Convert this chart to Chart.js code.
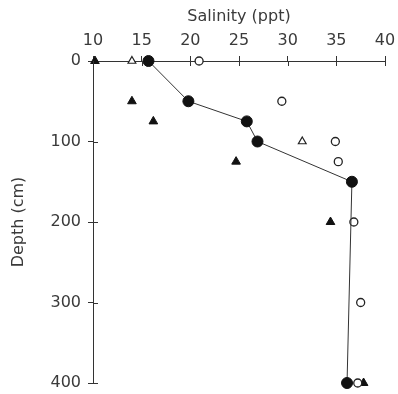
<!DOCTYPE html>
<html>
<head>
<meta charset="utf-8">
<script src="https://cdn.jsdelivr.net/npm/chart.js@4"></script>
<style>
  body { margin:0; background:#fff; }
  #wrap { width:398px; height:394px; }
</style>
</head>
<body>
<div id="wrap"><canvas id="myChart"></canvas></div>
<script>
// data
var depthTicks = [0, 100, 200, 300, 400];
var salTicks = [10, 15, 20, 25, 30, 35, 40];

// filled circles, joined by a line
var lineDepth = [0, 50, 75, 100, 150, 400];
var lineSal = [15.7, 19.8, 25.8, 26.9, 36.6, 36.1];
// open circles
var openCircDepth = [0, 50, 100, 125, 200, 300, 400];
var openCircSal = [20.9, 29.4, 34.9, 35.2, 36.8, 37.5, 37.2];
// filled triangles
var fillTriDepth = [0, 50, 75, 125, 200, 400];
var fillTriSal = [10.2, 14.0, 16.2, 24.7, 34.4, 37.8];
// open triangles
var openTriDepth = [0, 100];
var openTriSal = [14.0, 31.5];

function pts(xs, ys) {
    return xs.map(function (x, i) { return { x: x, y: ys[i] }; });
}

Chart.defaults.font.family = 'DejaVu Sans';
Chart.defaults.font.size = 16;
Chart.defaults.color = '#3a3a3a';

// ticks in the figure cross the axis line; Chart.js only draws the outer half
var crossTicks = {
    id: 'crossTicks',
    afterDraw: function (chart) {
        var ctx = chart.ctx, x = chart.scales.x, y = chart.scales.y;
        ctx.save();
        ctx.strokeStyle = '#333';
        ctx.lineWidth = 1;
        ctx.beginPath();
        salTicks.forEach(function (v) {
            var px = Math.round(x.getPixelForValue(v)) + 0.5;
            ctx.moveTo(px, x.bottom);
            ctx.lineTo(px, x.bottom + 5);
        });
        depthTicks.forEach(function (v) {
            if (v === 0) return;
            var py = Math.round(y.getPixelForValue(v)) + 0.5;
            ctx.moveTo(y.right, py);
            ctx.lineTo(y.right + 5, py);
        });
        ctx.stroke();
        ctx.restore();
    }
};

var myChart = document.getElementById('myChart').getContext('2d');
var allChart = new Chart(myChart, {
    type: 'scatter',
    data: {
        datasets: [{
            label: 'filled circles',
            data: pts(lineSal, lineDepth),
            showLine: true,
            borderColor: '#333',
            borderWidth: 1,
            backgroundColor: '#111',
            pointBackgroundColor: '#111',
            pointBorderColor: '#111',
            pointRadius: 5.5,
            clip: false
        }, {
            label: 'open circles',
            data: pts(openCircSal, openCircDepth),
            pointStyle: 'circle',
            pointBackgroundColor: '#fff',
            pointBorderColor: '#222',
            pointBorderWidth: 1.3,
            pointRadius: 4,
            clip: false
        }, {
            label: 'filled triangles',
            data: pts(fillTriSal, fillTriDepth),
            pointStyle: 'triangle',
            pointBackgroundColor: '#111',
            pointBorderColor: '#111',
            pointRadius: 5,
            clip: false
        }, {
            label: 'open triangles',
            data: pts(openTriSal, openTriDepth),
            pointStyle: 'triangle',
            pointBackgroundColor: '#fff',
            pointBorderColor: '#222',
            pointBorderWidth: 1.2,
            pointRadius: 4.5,
            clip: false
        }]
    },
    options: {
        responsive: true,
        maintainAspectRatio: false,
        animation: false,
        layout: { padding: { left: 0, top: 0, right: 13, bottom: 11 } },
        plugins: {
            legend: { display: false },
            tooltip: { enabled: false }
        },
        scales: {
            x: {
                type: 'linear',
                position: 'top',
                min: 10, max: 40,
                afterBuildTicks: function (s) { s.ticks = salTicks.map(function (v) { return { value: v }; }); },
                afterFit: function (s) { s.height = 61; s.paddingLeft = 0; s.paddingRight = 0; },
                grid: { display: true, drawOnChartArea: false, drawTicks: true, tickLength: 5, color: '#333' },
                border: { display: true, color: '#333', width: 1 },
                ticks: { padding: 6, maxRotation: 0 },
                title: { display: true, text: 'Salinity (ppt)', padding: { top: 7, bottom: 2 }, font: { size: 16 } }
            },
            y: {
                type: 'linear',
                reverse: true,
                min: 0, max: 400,
                afterBuildTicks: function (s) { s.ticks = depthTicks.map(function (v) { return { value: v }; }); },
                afterFit: function (s) { s.width = 93; s.paddingTop = 0; s.paddingBottom = 0; },
                grid: { display: true, drawOnChartArea: false, drawTicks: true, tickLength: 5, color: '#333' },
                border: { display: true, color: '#333', width: 1 },
                ticks: { padding: 7 },
                title: { display: true, text: 'Depth (cm)', padding: { top: 9, bottom: 0 }, font: { size: 16 } }
            }
        }
    },
    plugins: [crossTicks]
});
</script>
</body>
</html>
